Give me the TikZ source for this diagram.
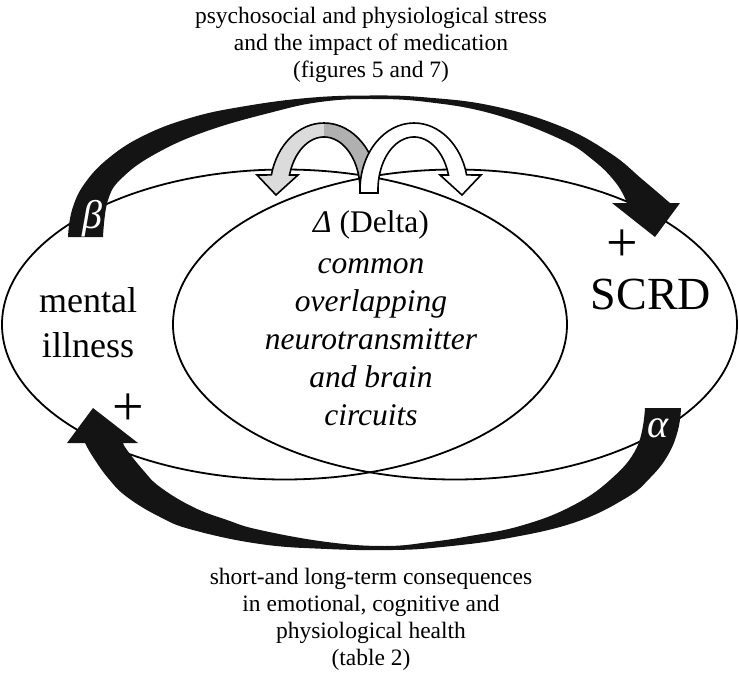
\documentclass[tikz,border=0pt]{standalone}
\usepackage{fontspec}
\setmainfont{Liberation Serif}
\begin{document}
\begin{tikzpicture}[x=1pt,y=-1pt]
\tikzset{
  ell/.style={draw=black, line width=1.8pt},
  bigarrow/.style={fill=black!92},
  smallarrow/.style={draw=black, line width=1.6pt, line join=miter},
  caption/.style={font=\fontsize{23.5}{27}\selectfont, anchor=base, inner sep=0pt},
  bigword/.style={font=\fontsize{36}{40}\selectfont, anchor=base, inner sep=0pt},
  midword/.style={font=\fontsize{31.5}{36}\selectfont\itshape, anchor=base, inner sep=0pt},
  greekw/.style={font=\fontsize{40}{42}\selectfont\itshape, text=white, inner sep=0pt},
  plussign/.style={font=\fontsize{56}{56}\selectfont, inner sep=0pt}
}
\useasboundingbox (0,0) rectangle (739,674);

% two overlapping ellipses
\draw[ell] (284.5,324.5) ellipse [x radius=282.5, y radius=155];
\draw[ell] (455,324.5) ellipse [x radius=282, y radius=155];

% top black arrow (beta)
\fill[bigarrow] plot[smooth, tension=0.7] coordinates {(68,237) (72,210) (85,183) (110,157) (145,135) (190,118) (240,107) (307,98) (370,95.5) (427,97.5) (493,106) (560,126) (610,153) (643,180) (670,203)}
  -- (680,203) -- (655,237) -- (612,203)
  -- plot[smooth, tension=0.7] coordinates {(627,203) (616,183) (593,160) (560,139) (493,114) (427,102) (370,99) (320,102) (273,112) (207,131) (157,153) (123,177) (108,200) (103,237)}
  -- cycle;

% bottom black arrow (alpha)
\fill[bigarrow] plot[smooth, tension=0.7] coordinates {(681,408) (678,430) (668,455) (650,478) (626,498) (576,522) (509,538) (442,547) (393,550) (327,549) (260,544) (193,530) (160,517) (127,497) (108,478) (93,457) (85,443)}
  -- (67,443) -- (93,408) -- (138,443)
  -- plot[smooth, tension=0.7] coordinates {(123,443) (127,450) (143,470) (160,487) (193,507) (227,520) (260,530) (327,542) (385,546) (430,542) (470,536) (520,526) (570,507) (610,480) (637,447) (645,408)}
  -- cycle;

% grey U arrow (behind)
\fill[gray!28] (378,193) -- (378,190) arc[start angle=0, end angle=-167, x radius=54, y radius=67] -- (257,175) -- (276,195) -- (298,175) -- (289.5,175) arc[start angle=196.4, end angle=360, x radius=36, y radius=53] -- (360,193) -- cycle;
\fill[gray!62] (378,193) -- (378,190) arc[start angle=0, end angle=-90, x radius=54, y radius=67] -- (324,137) arc[start angle=-90, end angle=0, x radius=36, y radius=53] -- (360,193) -- cycle;
\draw[smallarrow] (378,193) -- (378,190) arc[start angle=0, end angle=-167, x radius=54, y radius=67] -- (257,175) -- (276,195) -- (298,175) -- (289.5,175) arc[start angle=196.4, end angle=360, x radius=36, y radius=53] -- (360,193) -- cycle;

% white U arrow (front)
\filldraw[smallarrow, fill=white] (360,193) -- (360,190) arc[start angle=180, end angle=347, x radius=54, y radius=67] -- (481,175) -- (462,195) -- (440,175) -- (448.5,175) arc[start angle=343.6, end angle=180, x radius=36, y radius=53] -- (378,193) -- cycle;

% labels on black arrows
\node[greekw] (beta) at (92,219) {β};
\node[greekw] (alpha) at (658,428) {α};
\node[plussign] (plusA) at (622,246) {+};
\node[plussign] (plusB) at (128,410) {+};

% captions
\node[caption] (t1) at (371,24) {psychosocial and physiological stress};
\node[caption] (t2) at (371,51) {and the impact of medication};
\node[caption] (t3) at (371,78) {(figures 5 and 7)};

\node[caption] (b1) at (371,584) {short-and long-term consequences};
\node[caption] (b2) at (371,611) {in emotional, cognitive and};
\node[caption] (b3) at (371,638) {physiological health};
\node[caption] (b4) at (371,665) {(table 2)};

% left and right labels
\node[bigword] (m1) at (88,312) {mental};
\node[bigword] (m2) at (88,357) {illness};
\node[font=\fontsize{46}{50}\selectfont, anchor=base, inner sep=0pt] (scrd) at (651,309) {SCRD};

% middle text
\node[font=\fontsize{31.5}{36}\selectfont, anchor=base, inner sep=0pt] (delta) at (371,232) {\textit{Δ} (Delta)};
\node[midword] (c1) at (371,273) {common};
\node[midword] (c2) at (371,311) {overlapping};
\node[midword] (c3) at (371,349) {neurotransmitter};
\node[midword] (c4) at (371,387) {and brain};
\node[midword] (c5) at (371,425) {circuits};
\end{tikzpicture}
\end{document}
